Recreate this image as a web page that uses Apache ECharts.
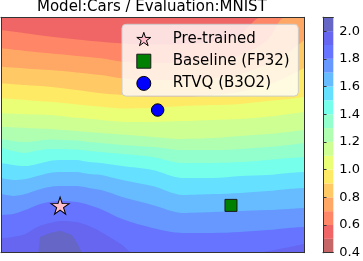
<!DOCTYPE html>
<html>
<head>
<meta charset="utf-8">
<script src="https://cdn.jsdelivr.net/npm/echarts@6/dist/echarts.min.js"></script>
<style>html,body{margin:0;padding:0;background:#fff}#c{width:363px;height:261px}</style>
</head>
<body>
<div id="c"></div>
<script>
// ---- data (landscape coordinates 0..100 on both axes) ----
const title = 'Model:Cars / Evaluation:MNIST';
const cbLevels = [0.4,0.5,0.6,0.7,0.8,0.9,1.0,1.1,1.2,1.3,1.4,1.5,1.6,1.7,1.8,1.9,2.0,2.1];
const cbTicks = [0.4,0.6,0.8,1.0,1.2,1.4,1.6,1.8,2.0];
const contourLevels = [0.6,0.7,0.8,0.9,1.0,1.1,1.2,1.3,1.4,1.5,1.6,1.7,1.8,1.9,2.0];
const colsA = [0,8,16,25,33,40,50,60,70,79,88,95,100];
const colsB = [0,4,8,12,16,20,25,29,33,40,50,60,70,79,88,95,100];
const c06 = [[0,94.6],[8,93.2],[16,91.8],[25,90.6],[33,89.6],[40,88.9],[50,88.4],[60,88.6],[70,89.5],[79,92.9],[86,100],[100,100]];
const c07 = [[0,86.8],[8,85.7],[16,84.7],[25,83.6],[33,82.6],[40,81.1],[50,80.6],[60,80.6],[70,81.9],[79,84.0],[88,90.3],[93.7,100],[100,100]];
const c08 = [79.0,78.3,77.6,76.6,75.5,74.1,73.4,73.4,74.2,75.9,80.2,85.3,90.3];
const c09 = [72.0,71.2,70.5,69.1,67.7,67.0,66.1,66.1,67.0,68.3,71.2,75.1,78.5];
const c10 = [65.6,64.9,64.1,63.0,62.0,61.3,61.5,62.3,62.7,63.2,64.4,65.3,66.1];
const c11 = [59.2,58.8,58.5,57.3,56.4,55.6,55.5,55.9,56.4,56.8,57.7,58.9,59.8];
const c12 = [53.5,53.0,52.5,51.7,50.9,50.2,49.2,48.3,48.7,49.6,50.4,51.3,52.1];
const c13 = [48.3,47.5,47.0,47.5,48.1,47.9,47.7,47.0,46.6,45.8,44.9,43.6,43.6,44.1,44.9,45.8,46.6];
const c14 = [44.5,43.2,42.4,43.4,44.1,44.1,43.8,43.2,42.8,41.9,40.7,38.1,38.1,38.5,39.4,40.2,40.7];
const c15 = [38.1,37.3,36.8,37.7,39.0,39.4,39.4,38.5,38.1,36.8,35.1,31.7,31.7,32.6,33.0,33.9,34.3];
const c16 = [31.7,30.9,31.3,32.6,33.9,34.3,34.3,33.4,33.0,30.9,28.3,24.5,24.9,25.4,26.2,27.1,27.5];
const c17 = [24.9,24.1,24.9,26.6,27.9,28.3,28.3,27.5,26.6,23.7,20.3,16.9,17.3,17.7,18.1,18.6,19.0];
const c18 = [16.0,16.4,18.1,20.3,21.5,22.0,21.5,20.3,18.5,14.3,10.5,8.4,8.4,8.8,9.6,10.5,10.9];
const c19 = [[0,6.2],[4,6.7],[8,7.9],[12,10.9],[16,12.6],[20,13.5],[25,13.0],[29,11.3],[33,8.8],[40,3.3],[43.6,0],[83.5,0],[92,1.6],[100,3.7]];
const c20 = [[12.3,0],[12.9,6.7],[16.2,8.4],[19.5,9.3],[23.4,7.5],[25.1,4.1],[26.7,0]];
const markerNames = ['Pre-trained','Baseline (FP32)','RTVQ (B3O2)'];
const pretrained = [[19.5,20.0]];
const baseline = [[75.9,20.1]];
const rtvq = [[51.7,60.6]];

// ---- helpers ----
const zipCols = (cols, ys) => ys.map((y,i)=>[cols[i], y]);
const boundaries = [c06, c07, zipCols(colsA,c08), zipCols(colsA,c09), zipCols(colsA,c10), zipCols(colsA,c11),
  zipCols(colsA,c12), zipCols(colsB,c13), zipCols(colsB,c14), zipCols(colsB,c15), zipCols(colsB,c16),
  zipCols(colsB,c17), zipCols(colsB,c18), c19, c20];
const VMIN = cbLevels[0], VMAX = cbLevels[cbLevels.length-1], ALPHA = 0.6;
const JR=[[0,0],[0.35,0],[0.66,1],[0.89,1],[1,0.5]];
const JG=[[0,0],[0.125,0],[0.375,1],[0.64,1],[0.91,0],[1,0]];
const JB=[[0,0.5],[0.11,1],[0.34,1],[0.65,0],[1,0]];
function seg(p,x){for(let i=0;i<p.length-1;i++){if(x<=p[i+1][0]){return p[i][1]+(p[i+1][1]-p[i][1])*(x-p[i][0])/(p[i+1][0]-p[i][0]);}}return p[p.length-1][1];}
function bandColor(mid){
  const s = 1 - (mid - VMIN)/(VMAX - VMIN);
  const c = [JR,JG,JB].map(p=>Math.round(255*(1-ALPHA) + 255*ALPHA*seg(p,s)));
  return 'rgb(' + c.join(',') + ')';
}
const STAR = 'path://M0,-10L2.245,-3.09L9.51,-3.09L3.63,1.18L5.88,8.09L0,3.82L-5.88,8.09L-3.63,1.18L-9.51,-3.09L-2.245,-3.09Z';
const FONT = 'DejaVu Sans';
const SP = '#333';

const areaSeries = boundaries.map((b,i)=>({
  type:'line', data:b, xAxisIndex:0, yAxisIndex:0,
  smooth: i===boundaries.length-1 ? false : 0.3,
  symbol:'none', silent:true, animation:false,
  lineStyle:{width:0},
  areaStyle:{color: bandColor(contourLevels[i]+0.05), opacity:1, origin:'start'},
  z:2
}));
const cbBands = cbLevels.slice(0,-1).map((lo,i)=>[lo, cbLevels[i+1]]);

const hiddenAxis = (extra) => Object.assign({type:'value', min:0, max:100, axisLabel:{show:false}, axisTick:{show:false},
  splitLine:{show:false}, axisLine:{show:true, onZero:false, lineStyle:{color:SP, width:1}}, z:10}, extra);

const chart = echarts.init(document.getElementById('c'), null, {renderer:'canvas'});
chart.setOption({
  animation:false,
  backgroundColor:'#fff',
  title:{text:title, left:37, top:0, padding:0,
    textStyle:{fontFamily:FONT, fontSize:15, fontWeight:'normal', color:'#000'}},
  grid:[
    {left:1, top:17.3, width:303, height:235.4, show:true, backgroundColor:bandColor(cbLevels[1]+0.05), borderWidth:0},
    {left:323, top:17.3, width:13, height:235.4, show:false}
  ],
  xAxis:[
    hiddenAxis({gridIndex:0, position:'bottom'}),
    hiddenAxis({gridIndex:0, position:'top'}),
    hiddenAxis({gridIndex:1, position:'bottom', min:0, max:1}),
    hiddenAxis({gridIndex:1, position:'top', min:0, max:1})
  ],
  yAxis:[
    hiddenAxis({gridIndex:0, position:'left'}),
    hiddenAxis({gridIndex:0, position:'right'}),
    {gridIndex:1, type:'value', position:'right', min:VMIN, max:VMAX, z:10,
      splitLine:{show:false},
      axisLine:{show:true, lineStyle:{color:SP, width:1}},
      axisTick:{show:true, length:3.5, lineStyle:{color:SP, width:1}, customValues:cbTicks},
      axisLabel:{show:true, margin:6, fontFamily:FONT, fontSize:13, color:'#000', customValues:cbTicks,
        formatter:(v)=>Number(v).toFixed(1)}},
    hiddenAxis({gridIndex:1, position:'left', min:VMIN, max:VMAX})
  ],
  legend:{
    orient:'vertical', left:122, top:24.3, padding:[7.2,8.7,5.2,14.3],
    itemWidth:14, itemHeight:14, itemGap:7.2, selectedMode:false,
    backgroundColor:'rgba(255,255,255,0.8)', borderColor:'#cccccc', borderWidth:1, borderRadius:4,
    textStyle:{fontFamily:FONT, fontSize:15, color:'#000', lineHeight:15, padding:[0,0,0,17]},
    data:[
      {name:markerNames[0], icon:STAR, itemStyle:{color:'#ffc0cb', borderColor:'#000', borderWidth:1}},
      {name:markerNames[1], icon:'rect', itemStyle:{color:'#008000', borderColor:'#1a1a1a', borderWidth:1}},
      {name:markerNames[2], icon:'circle', itemStyle:{color:'#0000ff', borderColor:'#000', borderWidth:1}}
    ]
  },
  series: areaSeries.concat([
    {type:'custom', xAxisIndex:2, yAxisIndex:2, data:cbBands, encode:{y:[0,1]}, silent:true, z:2,
      renderItem:(params, api)=>{
        const lo = api.value(0), hi = api.value(1);
        const p1 = api.coord([0, hi]), p2 = api.coord([1, lo]);
        return {type:'rect', shape:{x:p1[0], y:p1[1], width:p2[0]-p1[0], height:p2[1]-p1[1]},
          style:{fill:bandColor((lo+hi)/2)}};
      }},
    {type:'scatter', name:markerNames[0], data:pretrained, symbol:STAR, symbolSize:[18,17], z:5,
      itemStyle:{color:'#ffc0cb', borderColor:'#000', borderWidth:1, opacity:1}},
    {type:'scatter', name:markerNames[1], data:baseline, symbol:'rect', symbolSize:12, z:5,
      itemStyle:{color:'#008000', borderColor:'#1a1a1a', borderWidth:1, opacity:1}},
    {type:'scatter', name:markerNames[2], data:rtvq, symbol:'circle', symbolSize:12.5, z:5,
      itemStyle:{color:'#0000ff', borderColor:'#000', borderWidth:1, opacity:1}}
  ])
});
</script>
</body>
</html>
